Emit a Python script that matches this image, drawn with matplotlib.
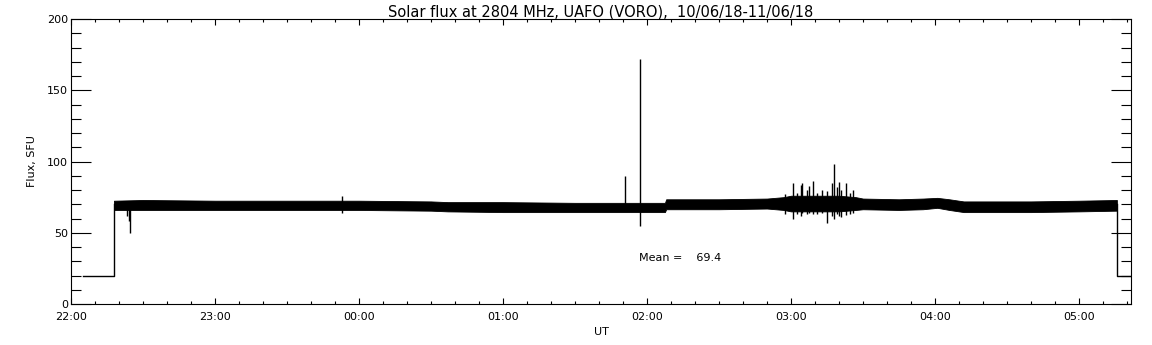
#!/usr/bin/env python3
"""Solar flux at 2804 MHz (UAFO, VORO), 10/06/18-11/06/18, IDL-style strip chart."""
import numpy as np
import matplotlib
matplotlib.use("Agg")
import matplotlib.pyplot as plt
from matplotlib.ticker import MultipleLocator, FixedLocator

# time is minutes after 22:00 UT
TICK_MIN = [0, 60, 120, 180, 240, 300, 360, 420]
TICK_LABELS = ["22:00", "23:00", "00:00", "01:00", "02:00", "03:00", "04:00", "05:00"]

# noise band envelope (upper / lower)
band_t  = [17.9, 30, 60, 90, 120, 150, 157, 180, 210, 240, 247.5, 248, 270, 290,
           297, 300, 310, 320, 327, 330, 345, 355, 361, 366, 372, 400, 420, 435.8]
band_hi = [72.5, 73, 72.5, 72.5, 72.5, 72, 71.5, 71.5, 71, 71, 71, 73.5, 73.5, 74,
           75, 76, 76, 76, 75, 74, 73.5, 74, 74.5, 73.5, 72, 72, 72.5, 73]
band_lo = [66, 66, 66, 66, 66, 65.5, 65, 64.5, 64.5, 64.5, 64.5, 66.5, 66.5, 67,
           66, 65, 65, 65, 66, 66.5, 66, 66.5, 67.5, 66, 64.5, 64.5, 65, 65.5]

# individual spikes / dips: time, top, bottom
spike_t  = [23.5, 24.0, 24.6, 113, 231, 237,
            297.5, 300.8, 302.5, 304.0, 304.6, 306.5, 307.5, 309, 311, 313,
            315, 317, 318, 319, 320, 321, 323, 324.6, 326]
spike_hi = [70, 70, 70, 75.8, 90, 172,
            77, 85, 78, 83.5, 85, 80, 83, 86, 78, 80,
            79, 85, 98, 82, 85.6, 80, 85, 78, 80]
spike_lo = [62, 58, 50, 64, 66, 55,
            63, 60, 63, 62, 64, 63, 64, 63, 63, 64,
            57, 62, 60, 63, 62, 61, 62.5, 63, 64]

# receiver off (20 SFU) before start and after end
start_t = [5.1, 17.9, 17.9]
start_v = [20, 20, 70]
end_t = [435.8, 435.8, 441.7]
end_v = [70, 20, 20]

MEAN = 69.4


def main():
    plt.rcParams["font.family"] = "DejaVu Sans"
    plt.rcParams["font.size"] = 8

    fig = plt.figure(figsize=(11.52, 3.45), dpi=100)
    ax = fig.add_axes([0.0616, 0.1188, 0.9202, 0.8261])

    ax.fill_between(band_t, band_lo, band_hi, color="black", lw=0.6)
    ax.vlines(spike_t, spike_lo, spike_hi, color="black", lw=1.0)
    ax.plot(start_t, start_v, color="black", lw=1.0)
    ax.plot(end_t, end_v, color="black", lw=1.0)

    ax.text(236.7, 32.3, f"Mean =    {MEAN:.1f}", fontsize=8, va="center", ha="left")

    ax.set_xlim(0, 441.7)
    ax.set_ylim(0, 200)
    ax.xaxis.set_major_locator(FixedLocator(TICK_MIN))
    ax.set_xticklabels(TICK_LABELS)
    ax.xaxis.set_minor_locator(MultipleLocator(10))
    ax.yaxis.set_major_locator(MultipleLocator(50))
    ax.yaxis.set_minor_locator(MultipleLocator(10))

    ax.tick_params(axis="x", which="major", direction="in", length=4.3, width=0.8,
                   top=True, bottom=True, pad=6)
    ax.tick_params(axis="x", which="minor", direction="in", length=2.2, width=0.8,
                   top=True, bottom=True)
    ax.tick_params(axis="y", which="major", direction="in", length=14.4, width=0.8,
                   left=True, right=True, pad=2)
    ax.tick_params(axis="y", which="minor", direction="in", length=7.2, width=0.8,
                   left=True, right=True)
    for sp in ax.spines.values():
        sp.set_linewidth(0.8)

    ax.set_xlabel("UT", fontsize=8, labelpad=3)
    ax.set_ylabel("Flux, SFU", fontsize=8, labelpad=7)
    ax.set_title("Solar flux at 2804 MHz, UAFO (VORO),  10/06/18-11/06/18",
                 fontsize=10.5, pad=2)

    fig.savefig("out.png", dpi=100)


if __name__ == "__main__":
    main()
